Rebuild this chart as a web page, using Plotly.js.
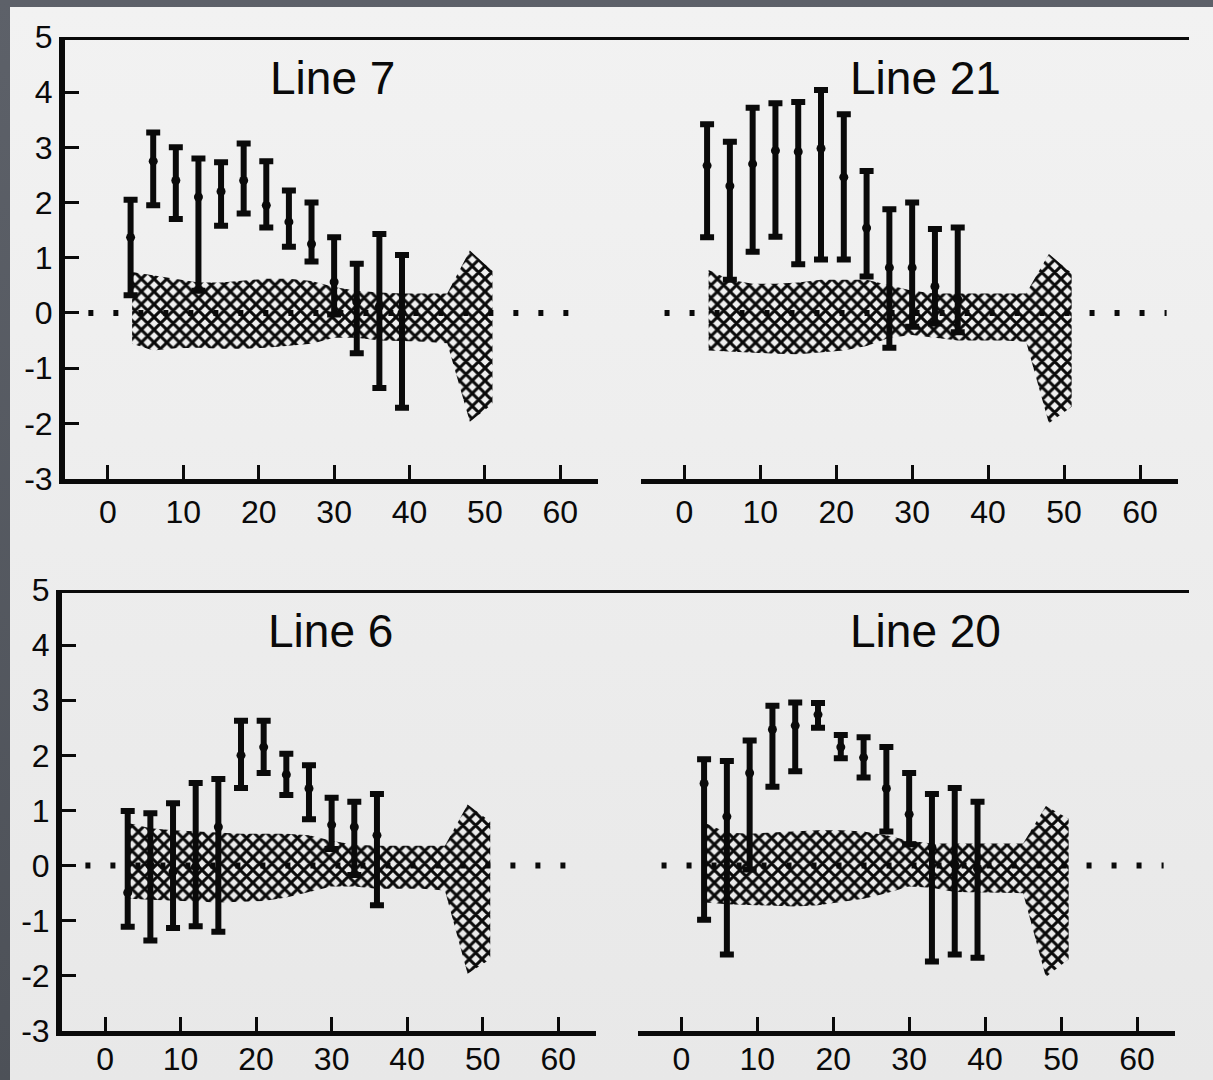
<!DOCTYPE html>
<html><head><meta charset="utf-8">
<script src="https://cdn.plot.ly/plotly-3.0.1.min.js"></script>
<style>
html,body{margin:0;padding:0;width:1213px;height:1080px;overflow:hidden;background:linear-gradient(180deg,#5d6169,#4d5158);}
#panel{position:absolute;left:10px;top:7px;width:1203px;height:1073px;background:linear-gradient(180deg,#f2f2f2,#e8e8e8);}
#chart{width:1203px;height:1073px;}
</style></head><body><div id="panel"><div id="chart"></div></div>
<script>
// ---- data ----
const panelTitles = ["Line 7", "Line 21", "Line 6", "Line 20"];
const xTickVals = [0, 10, 20, 30, 40, 50, 60];
const yTickVals = [5, 4, 3, 2, 1, 0, -1, -2, -3];
const yTickText = ["5", "4", "3", "2", "1", "0", "-1", "-2", "-3"];

const days13 = [3, 6, 9, 12, 15, 18, 21, 24, 27, 30, 33, 36, 39];
const days12 = [3, 6, 9, 12, 15, 18, 21, 24, 27, 30, 33, 36];

// Line 7
const line7Mean = [1.37, 2.75, 2.4, 2.1, 2.2, 2.4, 1.95, 1.65, 1.25, 0.56, 0.2, 0.12, 0.0];
const line7High = [2.05, 3.27, 3.0, 2.8, 2.73, 3.07, 2.75, 2.22, 2.0, 1.37, 0.89, 1.43, 1.05];
const line7Low  = [0.32, 1.95, 1.7, 0.4, 1.58, 1.8, 1.55, 1.2, 0.93, -0.03, -0.73, -1.36, -1.72];
// Line 21
const line21Mean = [2.67, 2.3, 2.7, 2.94, 2.92, 2.98, 2.46, 1.54, 0.82, 0.82, 0.48, 0.25];
const line21High = [3.42, 3.1, 3.72, 3.8, 3.82, 4.04, 3.6, 2.57, 1.88, 2.0, 1.52, 1.55];
const line21Low  = [1.37, 0.6, 1.11, 1.38, 0.88, 0.97, 0.97, 0.66, -0.63, -0.25, -0.19, -0.35];
// Line 6
const line6Mean = [-0.49, 0.0, -0.11, -0.02, 0.7, 2.0, 2.15, 1.65, 1.4, 0.74, 0.7, 0.55];
const line6High = [0.99, 0.95, 1.13, 1.5, 1.57, 2.63, 2.63, 2.03, 1.82, 1.23, 1.16, 1.3];
const line6Low  = [-1.11, -1.36, -1.13, -1.1, -1.2, 1.41, 1.68, 1.28, 0.84, 0.3, -0.17, -0.72];
// Line 20
const line20Mean = [1.49, 0.89, 1.68, 2.47, 2.54, 2.74, 2.15, 1.96, 1.4, 0.93, 0.33, 0.02, -0.05];
const line20High = [1.93, 1.9, 2.27, 2.9, 2.96, 2.95, 2.37, 2.33, 2.15, 1.68, 1.3, 1.41, 1.16];
const line20Low  = [-0.98, -1.61, -0.07, 1.43, 1.71, 2.5, 1.95, 1.6, 0.62, 0.39, -1.74, -1.61, -1.67];

// control band (hatched)
const bandX = [3.2, 6, 9, 12, 15, 18, 21, 24, 27, 30, 33, 36, 39, 42, 45, 48, 51];
const band7Upper  = [0.74, 0.68, 0.62, 0.55, 0.55, 0.58, 0.62, 0.62, 0.58, 0.47, 0.4, 0.37, 0.35, 0.35, 0.35, 1.13, 0.76];
const band7Lower  = [-0.56, -0.68, -0.64, -0.63, -0.65, -0.65, -0.63, -0.6, -0.56, -0.45, -0.45, -0.5, -0.51, -0.52, -0.55, -1.97, -1.65];
const band21Upper = [0.78, 0.6, 0.53, 0.53, 0.55, 0.6, 0.6, 0.6, 0.5, 0.4, 0.35, 0.35, 0.35, 0.35, 0.35, 1.07, 0.72];
const band21Lower = [-0.68, -0.7, -0.72, -0.74, -0.75, -0.72, -0.68, -0.6, -0.45, -0.4, -0.45, -0.5, -0.5, -0.5, -0.52, -2.0, -1.7];
const band6Upper  = [0.77, 0.68, 0.64, 0.62, 0.6, 0.58, 0.58, 0.58, 0.55, 0.45, 0.38, 0.36, 0.36, 0.36, 0.36, 1.11, 0.8];
const band6Lower  = [-0.6, -0.62, -0.64, -0.65, -0.67, -0.66, -0.64, -0.58, -0.48, -0.38, -0.38, -0.42, -0.42, -0.42, -0.45, -1.96, -1.7];
const band20Upper = [0.77, 0.6, 0.58, 0.6, 0.62, 0.64, 0.64, 0.62, 0.55, 0.45, 0.4, 0.4, 0.4, 0.4, 0.4, 1.08, 0.85];
const band20Lower = [-0.67, -0.7, -0.72, -0.73, -0.74, -0.72, -0.66, -0.6, -0.5, -0.38, -0.4, -0.48, -0.49, -0.49, -0.5, -2.02, -1.7];

const zeroLineX = [-2.6, 63.5];

// ---- layout helpers ----
const W = 1203, H = 1073, OX = 10, OY = 7;
const px = x => (x - OX) / W;
const py = y => 1 - (y - OY) / H;
const INK = '#0a0a0a';
const FONT = 'Liberation Sans, Arial, Helvetica, sans-serif';

const panels = [
  {days: days13, mean: line7Mean,  high: line7High,  low: line7Low,  up: band7Upper,  lo: band7Lower},
  {days: days12, mean: line21Mean, high: line21High, low: line21Low, up: band21Upper, lo: band21Lower},
  {days: days12, mean: line6Mean,  high: line6High,  low: line6Low,  up: band6Upper,  lo: band6Lower},
  {days: days13, mean: line20Mean, high: line20High, low: line20Low, up: band20Upper, lo: band20Lower}
];

const xDomains = [[px(65), px(598)], [px(641), px(1178)], [px(62), px(596)], [px(638), px(1175)]];
const yTop = [py(478.5), py(37)];
const yBot = [py(1031), py(590)];
const yDomains = [yTop, yTop, yBot, yBot];
const xLabelStandoff = [1, 1, -4, -4];
const titlePos = [[29.8, 4.25], [31.7, 4.25], [29.9, 4.25], [32.2, 4.25]];

const traces = [];
const layout = {
  width: W, height: H,
  margin: {l: 0, r: 0, t: 0, b: 0},
  paper_bgcolor: 'rgba(0,0,0,0)',
  plot_bgcolor: 'rgba(0,0,0,0)',
  showlegend: false,
  font: {family: FONT, color: INK},
  annotations: [],
  shapes: [
    {type: 'line', xref: 'paper', yref: 'y', x0: px(63), x1: px(1189), y0: 5, y1: 5, line: {color: INK, width: 6}},
    {type: 'line', xref: 'paper', yref: 'y3', x0: px(60), x1: px(1189), y0: 5, y1: 5, line: {color: INK, width: 6}}
  ]
};

panels.forEach((p, i) => {
  const n = i + 1;
  const xa = n === 1 ? 'x' : 'x' + n;
  const ya = n === 1 ? 'y' : 'y' + n;
  const xKey = n === 1 ? 'xaxis' : 'xaxis' + n;
  const yKey = n === 1 ? 'yaxis' : 'yaxis' + n;
  const showY = (n === 1 || n === 3);

  layout[xKey] = {
    domain: xDomains[i], anchor: ya, range: [-5.7, 65],
    showgrid: false, zeroline: false,
    showline: true, linewidth: 5, linecolor: INK,
    ticks: 'inside', ticklen: 14, tickwidth: 3, tickcolor: INK,
    tickvals: xTickVals, ticktext: xTickVals.map(String),
    tickfont: {family: FONT, size: 32, color: INK},
    ticklabelstandoff: xLabelStandoff[i]
  };
  layout[yKey] = {
    domain: yDomains[i], anchor: xa, range: [-3, 5],
    showgrid: false, zeroline: false,
    showline: showY, linewidth: 6, linecolor: INK,
    ticks: showY ? 'inside' : '', ticklen: 14, tickwidth: 3, tickcolor: INK,
    tickvals: yTickVals, ticktext: yTickText,
    showticklabels: showY,
    tickfont: {family: FONT, size: 32, color: INK},
    ticklabelstandoff: 0
  };

  // hatched band
  traces.push({
    type: 'scatter', mode: 'lines', xaxis: xa, yaxis: ya,
    x: bandX.concat(bandX.slice().reverse()),
    y: p.up.concat(p.lo.slice().reverse()),
    fill: 'toself', fillcolor: 'rgba(0,0,0,0)',
    fillpattern: {shape: 'x', size: 9, solidity: 0.55, fgcolor: INK, bgcolor: 'rgba(0,0,0,0)', fillmode: 'replace'},
    line: {width: 0, color: INK}, hoverinfo: 'skip'
  });
  // dotted zero reference
  traces.push({
    type: 'scatter', mode: 'lines', xaxis: xa, yaxis: ya,
    x: zeroLineX, y: [0, 0],
    line: {color: INK, width: 6, dash: '5px,20px'}, hoverinfo: 'skip'
  });
  // error bars
  traces.push({
    type: 'scatter', mode: 'markers', xaxis: xa, yaxis: ya,
    x: p.days, y: p.mean,
    marker: {size: 9, color: INK},
    error_y: {
      type: 'data', symmetric: false,
      array: p.high.map((h, k) => h - p.mean[k]),
      arrayminus: p.low.map((l, k) => p.mean[k] - l),
      color: INK, thickness: 6, width: 7
    }
  });

  layout.annotations.push({
    xref: xa, yref: ya, x: titlePos[i][0], y: titlePos[i][1],
    text: panelTitles[i], showarrow: false,
    font: {family: FONT, size: 46, color: INK},
    xanchor: 'center', yanchor: 'middle'
  });
});

Plotly.newPlot('chart', traces, layout, {displayModeBar: false, staticPlot: true});
</script></body></html>
